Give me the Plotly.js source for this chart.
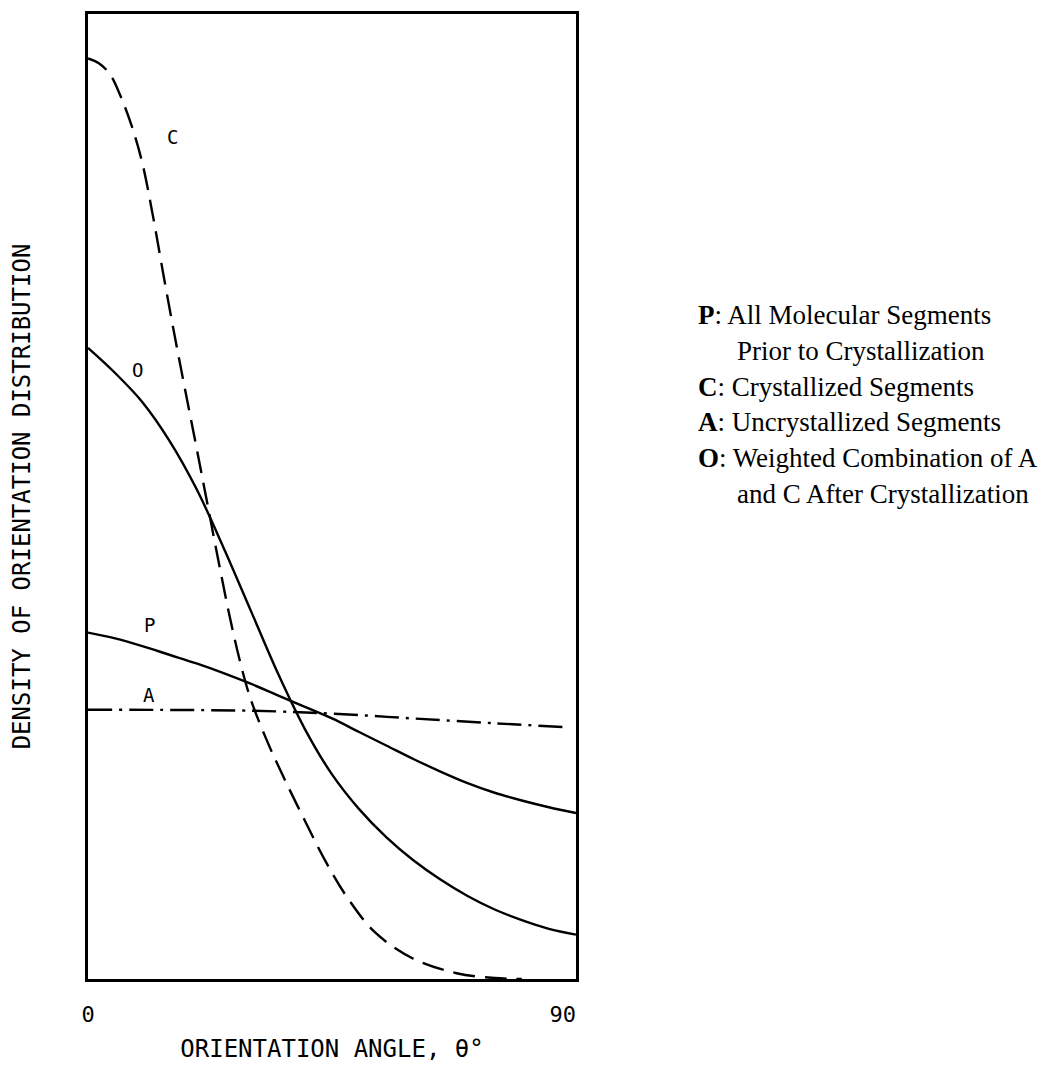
<!DOCTYPE html>
<html>
<head>
<meta charset="utf-8">
<script src="https://cdn.plot.ly/plotly-3.0.1.min.js"></script>
<style>html,body{margin:0;padding:0;background:#fff}</style>
</head>
<body>
<div id="chart" style="width:1055px;height:1074px"></div>
<script>
// Orientation angle (degrees) and density values (arbitrary units, 0..10)
const thetaC = [0, 2, 4, 6, 8, 10, 12, 14, 16, 18, 20, 22, 24, 26, 28, 30, 33, 36, 40, 44, 48, 53, 60, 68, 75, 80];
const densC  = [9.54, 9.49, 9.38, 9.15, 8.85, 8.46, 7.90, 7.27, 6.66, 6.08, 5.51, 4.93, 4.35, 3.79, 3.30, 2.90, 2.47, 2.10, 1.64, 1.20, 0.83, 0.48, 0.21, 0.06, 0.01, 0];

const thetaO = [0, 5, 10, 15, 20, 25, 30, 35, 40, 45, 50, 55, 60, 65, 70, 75, 80, 85, 90];
const densO  = [6.54, 6.28, 5.98, 5.58, 5.08, 4.47, 3.82, 3.17, 2.59, 2.12, 1.76, 1.47, 1.23, 1.03, 0.86, 0.72, 0.61, 0.52, 0.46];

const thetaP = [0, 5, 10, 15, 20, 25, 30, 35, 40, 45, 50, 55, 60, 65, 70, 75, 80, 85, 90];
const densP  = [3.59, 3.53, 3.45, 3.36, 3.27, 3.17, 3.06, 2.94, 2.82, 2.70, 2.56, 2.42, 2.28, 2.15, 2.03, 1.93, 1.85, 1.78, 1.72];

const thetaA = [0, 30, 45, 60, 75, 88];
const densA  = [2.79, 2.78, 2.75, 2.70, 2.65, 2.61];

// Curve label texts and where they sit (data coords)
const curveLabels = ['C', 'O', 'P', 'A'];
const curveLabelTheta = [15.5, 9.2, 11.3, 11.3];
const curveLabelDens  = [8.73, 6.31, 3.67, 2.94];

const xTickVals = [0, 90];
const xTickText = ['0', '90\u00a0\u00a0'];

const xTitle = 'ORIENTATION ANGLE, \u03b8\u00b0';
const yTitle = 'DENSITY OF ORIENTATION DISTRIBUTION';

// Explanatory key text
const keyLetters = ['P', '', 'C', 'A', 'O', ''];
const keyTexts = ['All Molecular Segments', 'Prior to Crystallization', 'Crystallized Segments',
                  'Uncrystallized Segments', 'Weighted Combination of A', 'and C After Crystallization'];

const mono = 'DejaVu Sans Mono, monospace';
const serif = 'Liberation Serif, Times New Roman, serif';

const W = 1055, H = 1074;
const M = {l: 88, r: 1055 - 576, t: 14, b: 1074 - 979};
const plotW = W - M.l - M.r, plotH = H - M.t - M.b;

const lineW = 2.4;
const sm = 1.0;
const traces = [
  {x: thetaC, y: densC, mode: 'lines', line: {color: '#000', width: lineW, dash: '22px,10px', shape: 'spline', smoothing: sm}},
  {x: thetaO, y: densO, mode: 'lines', line: {color: '#000', width: lineW, shape: 'spline', smoothing: sm}},
  {x: thetaP, y: densP, mode: 'lines', line: {color: '#000', width: lineW, shape: 'spline', smoothing: sm}},
  {x: thetaA, y: densA, mode: 'lines', line: {color: '#000', width: lineW, dash: '24px,7px,3px,7px', shape: 'spline', smoothing: sm}}
];

const annotations = [];
curveLabels.forEach((t, i) => {
  annotations.push({x: curveLabelTheta[i], y: curveLabelDens[i], xref: 'x', yref: 'y', text: t,
    showarrow: false, font: {family: mono, size: 19, color: '#000'}, xanchor: 'center', yanchor: 'middle'});
});

const keyX1 = 696, keyX2 = 735, keyY0 = 315, keyStep = 35.8;
keyTexts.forEach((t, i) => {
  const px = keyLetters[i] ? keyX1 : keyX2;
  const py = keyY0 + i * keyStep;
  const txt = keyLetters[i] ? '<b>' + keyLetters[i] + '</b>: ' + t : t;
  annotations.push({x: (px - M.l) / plotW, y: (H - M.b - py) / plotH, xref: 'paper', yref: 'paper',
    text: txt, showarrow: false, xanchor: 'left', yanchor: 'middle',
    font: {family: serif, size: 27, color: '#000'}});
});

const layout = {
  width: W, height: H,
  margin: M,
  paper_bgcolor: '#fff', plot_bgcolor: '#fff',
  showlegend: false,
  xaxis: {
    range: [0, 90], showgrid: false, zeroline: false,
    showline: true, mirror: true, linecolor: '#000', linewidth: 2.8,
    tickvals: xTickVals, ticktext: xTickText, ticks: '',
    tickfont: {family: mono, size: 22, color: '#000'},
    ticklabelstandoff: 14,
    title: {text: xTitle, font: {family: mono, size: 24, color: '#000'}, standoff: 14},
    fixedrange: true
  },
  yaxis: {
    range: [0, 10], showgrid: false, zeroline: false,
    showline: true, mirror: true, linecolor: '#000', linewidth: 2.8,
    showticklabels: false, ticks: '',
    title: {text: yTitle, font: {family: mono, size: 24, color: '#000'}, standoff: 48},
    fixedrange: true
  },
  annotations: annotations
};

Plotly.newPlot('chart', traces, layout, {staticPlot: true, displayModeBar: false});
</script>
</body>
</html>
